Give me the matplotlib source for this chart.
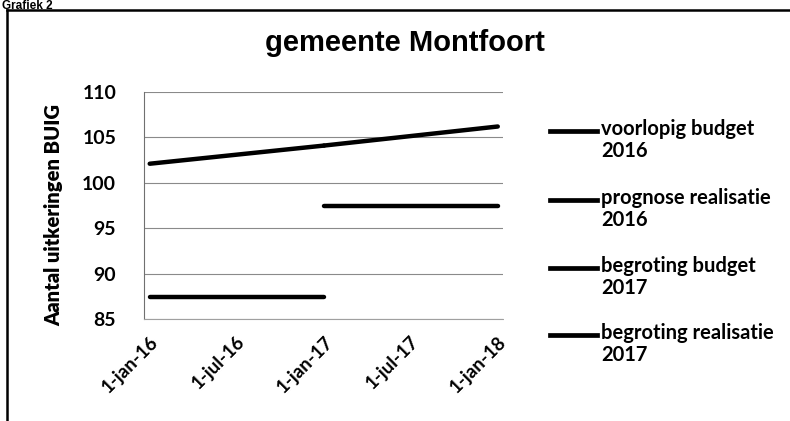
import matplotlib
matplotlib.use("Agg")
import numpy as np
import matplotlib.dates as mdates
import matplotlib.transforms as mtransforms
from matplotlib import pyplot as plt
from matplotlib.lines import Line2D
from datetime import datetime

# data
dates_2016 = [datetime(2016, 1, 1), datetime(2017, 1, 1)]
dates_2017 = [datetime(2017, 1, 1), datetime(2018, 1, 1)]
voorlopig_budget_2016 = [102.1, 104.1]
prognose_realisatie_2016 = [87.4, 87.4]
begroting_budget_2017 = [104.1, 106.2]
begroting_realisatie_2017 = [97.5, 97.5]

series_labels = ['voorlopig budget\n2016', 'prognose realisatie\n2016',
                 'begroting budget\n2017', 'begroting realisatie\n2017']

tick_dates = [datetime(2016, 1, 1), datetime(2016, 7, 1), datetime(2017, 1, 1),
              datetime(2017, 7, 1), datetime(2018, 1, 1)]
tick_labels = ['1-jan-16', '1-jul-16', '1-jan-17', '1-jul-17', '1-jan-18']
y_ticks = [85, 90, 95, 100, 105, 110]

font = ['Lato', 'DejaVu Sans']
W, H = 790, 421

fig = plt.figure(figsize=(7.9, 4.21), dpi=100)
ax = fig.add_axes([144 / W, 1 - 319 / H, 359 / W, 227 / H])

kw = dict(color='black', lw=3.2, solid_capstyle='round')
lines = []
lines += ax.plot(dates_2016, voorlopig_budget_2016, **kw)
lines += ax.plot(dates_2016, prognose_realisatie_2016, **kw)
lines += ax.plot(dates_2017, begroting_budget_2017, **kw)
lines += ax.plot(dates_2017, begroting_realisatie_2017, **kw)

ax.set_xlim(datetime(2015, 12, 20), datetime(2018, 1, 12))
ax.set_ylim(85, 110)
ax.set_yticks(y_ticks)
ax.set_yticklabels([str(v) for v in y_ticks], family=font, fontweight='bold', fontsize=14)
ax.set_xticks([mdates.date2num(d) for d in tick_dates])
ax.set_xticklabels(tick_labels, family=font, fontweight='bold', fontsize=13.5,
                   rotation=45, ha='right', rotation_mode='anchor')
shift = mtransforms.ScaledTranslation(5 / 100, 0, fig.dpi_scale_trans)
for lab in ax.get_xticklabels():
    lab.set_transform(lab.get_transform() + shift)
ax.tick_params(axis='y', length=0, pad=20)
ax.tick_params(axis='x', length=0, pad=10)

ax.grid(axis='y', color='#8a8a8a', lw=0.8)
ax.set_axisbelow(True)
for s in ['top', 'right']:
    ax.spines[s].set_visible(False)
ax.spines['left'].set_color('#707070')
ax.spines['bottom'].set_color('#a0a0a0')
ax.spines['bottom'].set_linestyle((0, (2, 1)))

ax.set_ylabel('Aantal uitkeringen BUIG', family=font, fontweight='heavy', fontsize=14.5)
ax.yaxis.set_label_coords((63 - 144) / 359, (319 - 215) / 227)

fig.text(405 / W, 1 - 43 / H, 'gemeente Montfoort', ha='center', va='center',
         family=['Liberation Sans', 'DejaVu Sans'], fontweight='bold', fontsize=21)

# "Grafiek 2" caption above the frame
fig.text(2 / W, 1 - 9 / H, 'Grafiek 2', ha='left', va='baseline',
         family=['Liberation Sans', 'DejaVu Sans'], fontweight='bold', fontsize=8.5)

# legend, handle beside the first line of each label
row_y = [131, 200, 268, 335]
for ln, lab, ry in zip(lines, series_labels, row_y):
    fig.add_artist(Line2D([550 / W, 597 / W], [1 - ry / H, 1 - ry / H],
                          transform=fig.transFigure, color=ln.get_color(), lw=3.4))
    fig.text(601 / W, 1 - (ry - 12) / H, lab, ha='left', va='top', family=font,
             fontweight='bold', fontsize=14.5, linespacing=1.12)

# outer frame: left and top edge
fig.add_artist(Line2D([7 / W, 7 / W], [0, 1 - 10 / H], transform=fig.transFigure,
                      color='black', lw=1.8))
fig.add_artist(Line2D([7 / W, 1], [1 - 10 / H, 1 - 10 / H], transform=fig.transFigure,
                      color='black', lw=1.8))

fig.savefig('out.png', dpi=100)
